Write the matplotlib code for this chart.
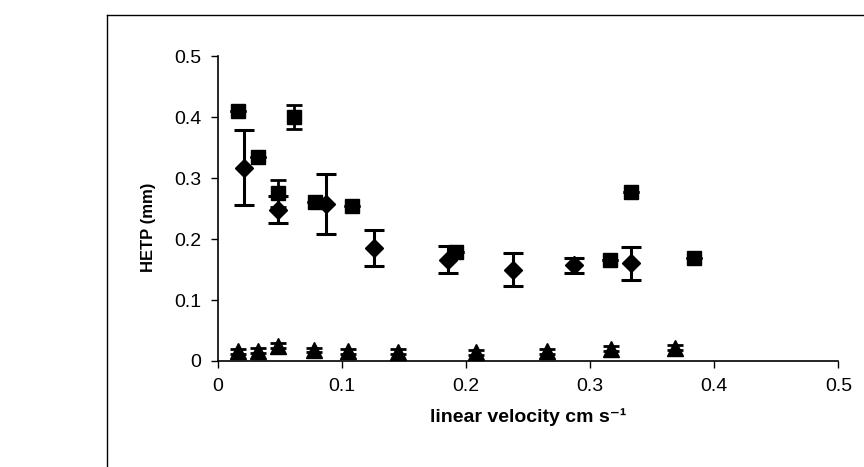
import matplotlib
matplotlib.use("Agg")
import matplotlib.pyplot as plt
from matplotlib.lines import Line2D

plt.rcParams['font.family'] = ['Liberation Sans', 'DejaVu Sans']

# squares
sq_x = [0.016, 0.032, 0.048, 0.0615, 0.078, 0.108, 0.192, 0.316, 0.333, 0.384]
sq_y = [0.41, 0.335, 0.275, 0.40, 0.26, 0.254, 0.179, 0.166, 0.277, 0.169]
sq_err = [0.0, 0.0, 0.022, 0.02, 0.0, 0.0, 0.0, 0.0, 0.0, 0.0]

# diamonds with error bars
dm_x = [0.021, 0.048, 0.087, 0.1255, 0.185, 0.238, 0.287, 0.333]
dm_y = [0.317, 0.248, 0.257, 0.185, 0.166, 0.150, 0.157, 0.160]
dm_err = [0.061, 0.022, 0.049, 0.030, 0.022, 0.027, 0.012, 0.027]

# triangles
tr_x = [0.016, 0.032, 0.048, 0.077, 0.105, 0.145, 0.208, 0.265, 0.317, 0.368]
tr_y = [0.016, 0.017, 0.025, 0.018, 0.016, 0.015, 0.014, 0.016, 0.020, 0.022]
tr_err = [0.004] * 10

x_ticks = [0, 0.1, 0.2, 0.3, 0.4, 0.5]
y_ticks = [0, 0.1, 0.2, 0.3, 0.4, 0.5]

fig = plt.figure(figsize=(8.64, 4.67), dpi=100)
ax = fig.add_axes([0.2523, 0.227, 0.718, 0.653])

ax.errorbar(sq_x, sq_y, yerr=sq_err, fmt='s', color='black', ms=10,
            capsize=6, elinewidth=2, capthick=2, zorder=3)
ax.errorbar(dm_x, dm_y, yerr=dm_err, fmt='D', color='black', ms=9,
            capsize=7, elinewidth=2.2, capthick=2.2, zorder=4)
ax.errorbar(tr_x, tr_y, yerr=tr_err, fmt='^', color='black', ms=12,
            capsize=6, elinewidth=2, capthick=2, zorder=3)

ax.set_xlim(0, 0.5)
ax.set_ylim(0, 0.5)
ax.set_xticks(x_ticks)
ax.set_yticks(y_ticks)
ax.set_xticklabels(['0', '0.1', '0.2', '0.3', '0.4', '0.5'])
ax.set_yticklabels(['0', '0.1', '0.2', '0.3', '0.4', '0.5'])
ax.spines['top'].set_visible(False)
ax.spines['right'].set_visible(False)
ax.spines['left'].set_linewidth(1.2)
ax.spines['bottom'].set_linewidth(1.2)
ax.tick_params(axis='both', direction='out', length=5, width=1, labelsize=14, pad=7)

ax.set_xlabel('linear velocity cm s\u207b\u00b9', fontsize=14, fontweight='bold', labelpad=10)
ax.set_ylabel('HETP (mm)', fontsize=12, fontweight='bold')
ax.yaxis.set_label_coords(-0.10, 0.44)

# outer frame
fig.add_artist(Line2D([0.124, 0.124], [0.0, 0.968], color='black', lw=1, transform=fig.transFigure))
fig.add_artist(Line2D([0.124, 1.0], [0.968, 0.968], color='black', lw=1, transform=fig.transFigure))

fig.savefig('out.png', dpi=100)
